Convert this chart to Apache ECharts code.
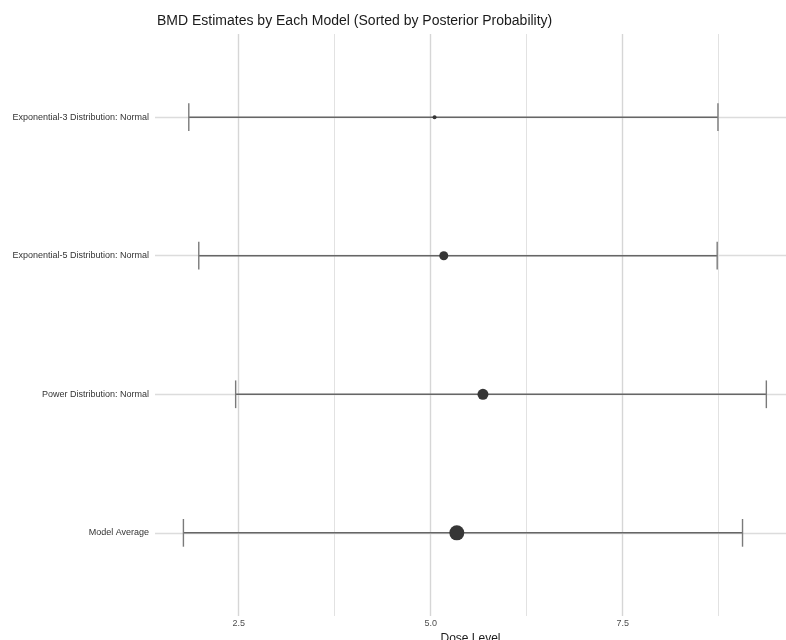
<!DOCTYPE html>
<html>
<head>
<meta charset="utf-8">
<script src="https://cdn.jsdelivr.net/npm/echarts@6/dist/echarts.min.js"></script>
<style>html,body{margin:0;padding:0;background:#fff}#c{width:786px;height:640px}</style>
</head>
<body>
<div id="c"></div>
<script>
// categories from bottom to top
const models = ["Model Average", "Power Distribution: Normal", "Exponential-5 Distribution: Normal", "Exponential-3 Distribution: Normal"];
const bmd = [5.34, 5.68, 5.17, 5.05];
const bmdl = [1.78, 2.46, 1.98, 1.85];
const bmdu = [9.06, 9.37, 8.73, 8.74];
const pointSize = [15, 11, 9, 4];
const xTicks = [2.5, 5.0, 7.5];
const xMinor = [3.75, 6.25, 8.75];

const chart = echarts.init(document.getElementById('c'), null, {renderer: 'canvas'});
const font = '"Liberation Sans", Arial, Helvetica, sans-serif';

const barData = models.map((m, i) => [bmdl[i], bmdu[i], i + 1]);
const ptData = models.map((m, i) => ({value: [bmd[i], i + 1], symbolSize: pointSize[i]}));

chart.setOption({
  animation: false,
  backgroundColor: '#fff',
  title: {
    text: 'BMD Estimates by Each Model (Sorted by Posterior Probability)',
    left: 152, top: 9,
    textStyle: {fontFamily: font, fontSize: 14, fontWeight: 'normal', color: '#1a1a1a'}
  },
  grid: {left: 155, right: 0, top: 34, bottom: 24, containLabel: false, outerBoundsMode: 'none'},
  xAxis: {
    type: 'value', min: 1.41, max: 9.626,
    name: 'Dose Level', nameLocation: 'middle', nameGap: 15,
    nameTextStyle: {fontFamily: font, fontSize: 12, color: '#1a1a1a'},
    axisLine: {show: false}, axisTick: {show: false}, splitLine: {show: false},
    axisLabel: {customValues: xTicks, formatter: v => v.toFixed(1), fontFamily: font, fontSize: 9, color: '#4d4d4d', margin: 3}
  },
  yAxis: {
    type: 'value', min: 0.4, max: 4.6,
    axisLine: {show: false}, axisTick: {show: false}, splitLine: {show: false},
    axisLabel: {customValues: [1, 2, 3, 4], formatter: v => models[Math.round(v) - 1], fontFamily: font, fontSize: 9, color: '#333333', margin: 6}
  },
  series: [
    {
      type: 'line', data: [], silent: true, z: 1,
      markLine: {
        silent: true, symbol: 'none', animation: false, label: {show: false}, z: 1,
        data: [
          ...xTicks.map(v => ({xAxis: v, lineStyle: {color: '#d6d6d6', width: 1.4, type: 'solid'}})),
          ...xMinor.map(v => ({xAxis: v, lineStyle: {color: '#e2e2e2', width: 1, type: 'solid'}})),
          ...models.map((m, i) => ({yAxis: i + 1, lineStyle: {color: '#dcdcdc', width: 1.4, type: 'solid'}}))
        ]
      }
    },
    {
      type: 'custom', data: barData, z: 6,
      renderItem: function (params, api) {
        const lo = api.value(0), hi = api.value(1), y = api.value(2);
        const a = api.coord([lo, y]), b = api.coord([hi, y]);
        const aT = api.coord([lo, y + 0.1]), aB = api.coord([lo, y - 0.1]);
        const bT = api.coord([hi, y + 0.1]), bB = api.coord([hi, y - 0.1]);
        return {type: 'group', children: [
          {type: 'line', shape: {x1: a[0], y1: a[1], x2: b[0], y2: b[1]}, style: {stroke: '#666666', lineWidth: 1.5}},
          {type: 'line', shape: {x1: aT[0], y1: aT[1], x2: aB[0], y2: aB[1]}, style: {stroke: '#7a7a7a', lineWidth: 1.4}},
          {type: 'line', shape: {x1: bT[0], y1: bT[1], x2: bB[0], y2: bB[1]}, style: {stroke: '#7a7a7a', lineWidth: 1.4}}
        ]};
      }
    },
    {
      type: 'scatter', data: ptData, z: 7, symbol: 'circle',
      itemStyle: {color: '#363636', opacity: 1}
    }
  ]
});
</script>
</body>
</html>
